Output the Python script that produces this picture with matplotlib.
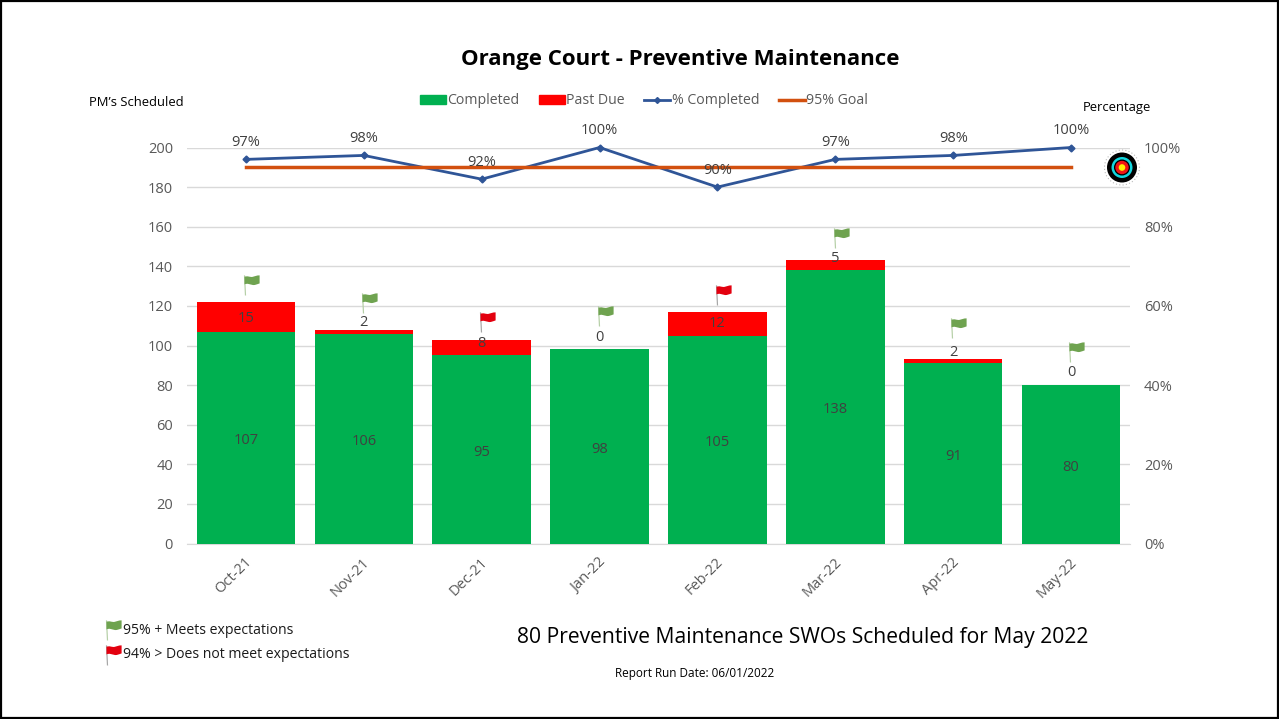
#!/usr/bin/env python3
"""Orange Court preventive maintenance chart."""

import matplotlib
matplotlib.use("Agg")
import matplotlib.pyplot as plt
from matplotlib.patches import Circle, Rectangle, Patch
from matplotlib.lines import Line2D
from matplotlib.path import Path
from matplotlib.ticker import FuncFormatter
from matplotlib.transforms import ScaledTranslation

plt.rcParams['font.family'] = ['Open Sans', 'DejaVu Sans']

months = ['Oct-21', 'Nov-21', 'Dec-21', 'Jan-22', 'Feb-22', 'Mar-22', 'Apr-22', 'May-22']
completed = [107, 106, 95, 98, 105, 138, 91, 80]
past_due = [15, 2, 8, 0, 12, 5, 2, 0]
pct_completed = [0.97, 0.98, 0.92, 1.00, 0.90, 0.97, 0.98, 1.00]
goal = [0.95] * 8
flag_colors = ['g', 'g', 'r', 'g', 'r', 'g', 'g', 'g']

# hand placed in the original: flag foot height and past due label nudge (px)
flag_base = [125.5, 116.4, 107, 110, 120.5, 149, 104, 91.7]
label_nudge = [-2, 9, 4, 12, 0, 7, 9, 13]

W, H = 1279, 719
GREEN = '#00B050'
RED = '#FF0000'
BLUE = '#2F5597'
ORANGE = '#D2500F'
GRAY = '#595959'
DARK = '#404040'

# flag shapes, foot of the pole at the origin, y up, in px
POLE = Path([(0.4, 0), (1.6, 0), (0.6, 20), (-0.6, 20), (0.4, 0)],
            [Path.MOVETO, Path.LINETO, Path.LINETO, Path.LINETO, Path.CLOSEPOLY])
CLOTH = Path(
    [(0, 18.5), (3, 20), (5, 18), (8, 18.5), (10, 19), (12, 20), (15, 20),
     (15, 12), (12, 11), (10, 10), (8, 10.5), (5, 11), (3, 12.5), (0, 11), (0, 18.5)],
    [Path.MOVETO, Path.CURVE4, Path.CURVE4, Path.CURVE4, Path.CURVE4, Path.CURVE4, Path.CURVE4,
     Path.LINETO, Path.CURVE4, Path.CURVE4, Path.CURVE4, Path.CURVE4, Path.CURVE4, Path.CURVE4,
     Path.CLOSEPOLY])
FLAG_MS = 29


def draw_flag(ax, x, y, kind):
    """Draw a small flag with its pole foot at x, y."""
    pole_col = '#B5CFA6' if kind == 'g' else '#A6A6A6'
    cloth_col = '#6FA350' if kind == 'g' else '#E3000F'
    ax.plot([x], [y], marker=POLE, ms=FLAG_MS, mfc=pole_col, mec='none',
            ls='none', clip_on=False, zorder=6)
    ax.plot([x], [y], marker=CLOTH, ms=FLAG_MS, mfc=cloth_col, mec='none',
            ls='none', clip_on=False, zorder=6)


fig = plt.figure(figsize=(W / 100, H / 100), dpi=100, facecolor='white')

ax = fig.add_axes([187 / W, 1 - 543.5 / H, (1130 - 187) / W, (543.5 - 147.5) / H])
xs = list(range(len(months)))

ax.bar(xs, completed, width=0.835, color=GREEN, zorder=3)
ax.bar(xs, past_due, width=0.835, bottom=completed, color=RED, zorder=3)
ax.set_xlim(-0.5, len(months) - 0.5)
ax.set_ylim(0, 200)
ax.set_yticks(range(0, 201, 20))
ax.set_xticks(xs)
ax.set_xticklabels(months, rotation=45, ha='right', rotation_mode='anchor')
ax.tick_params(axis='x', length=0, pad=8, labelsize=10.5, labelcolor=GRAY)
ax.tick_params(axis='y', length=0, pad=10, labelsize=10.5, labelcolor=GRAY)
shift = ScaledTranslation(-1 / 72, 0, fig.dpi_scale_trans)
for lab in ax.get_xticklabels():
    lab.set_transform(lab.get_transform() + shift)
ax.grid(axis='y', color='#D9D9D9', lw=1, zorder=0)
ax.set_axisbelow(True)
for name, spine in ax.spines.items():
    spine.set_visible(name == 'bottom')
ax.spines['bottom'].set_color('#D9D9D9')

for x, c in zip(xs, completed):
    ax.annotate(str(c), (x, c / 2), xytext=(0, -2), textcoords='offset points',
                ha='center', va='center', fontsize=10.5, color=DARK, zorder=5)
for x, c, p, n in zip(xs, completed, past_due, label_nudge):
    ax.annotate(str(p), (x, c + p / 2), xytext=(0, n * 0.72), textcoords='offset points',
                ha='center', va='center', fontsize=10.5, color=DARK, zorder=5)
for x, b, k in zip(xs, flag_base, flag_colors):
    draw_flag(ax, x - 0.015, b, k)

ax2 = ax.twinx()
ax2.set_ylim(0, 1)
ax2.set_yticks([0, 0.2, 0.4, 0.6, 0.8, 1.0])
ax2.yaxis.set_major_formatter(FuncFormatter(lambda v, _: f'{v:.0%}'))
ax2.tick_params(axis='y', length=0, pad=10, labelsize=10.5, labelcolor=GRAY)
for spine in ax2.spines.values():
    spine.set_visible(False)
ax2.plot(xs, pct_completed, color=BLUE, lw=2, marker='D', ms=3.5, clip_on=False, zorder=4)
ax2.plot(xs, goal, color=ORANGE, lw=2.5, clip_on=False, zorder=5)
for x, v in zip(xs, pct_completed):
    ax2.annotate(f'{v:.0%}', (x, v), xytext=(0, 12.2), textcoords='offset points',
                 ha='center', va='center', fontsize=10.5, color=DARK, zorder=7)

handles = [
    Patch(color=GREEN, label='Completed'),
    Patch(color=RED, label='Past Due'),
    Line2D([], [], color=BLUE, lw=2, marker='D', ms=3, label='% Completed'),
    Line2D([], [], color=ORANGE, lw=2.5, label='95% Goal'),
]
fig.legend(handles=handles, ncol=4, loc='center', bbox_to_anchor=(644 / W, 1 - 101 / H),
           frameon=False, fontsize=10.2, labelcolor=GRAY, handlelength=1.85, handleheight=0.6,
           handletextpad=0.1, columnspacing=1.35)

# overlay in image pixels for the loose text and decorations
ov = fig.add_axes([0, 0, 1, 1], facecolor='none', zorder=10)
ov.set_xlim(0, W)
ov.set_ylim(H, 0)
ov.axis('off')

ov.add_patch(Rectangle((1, 1), W - 2, H - 2, fill=False, ec='black', lw=1.6))

ov.text(680, 60, 'Orange Court - Preventive Maintenance', ha='center', va='center',
        fontsize=16, fontweight='bold', color='black')
ov.text(136.5, 102, 'PM\u2019s Scheduled', ha='center', va='center', fontsize=9.4, color='black')
ov.text(1117, 108, 'Percentage', ha='center', va='center', fontsize=9.4, color='black')
ov.text(803, 638, '80 Preventive Maintenance SWOs Scheduled for May 2022', ha='center', va='center',
        fontsize=15.2, color='black')
ov.text(695, 674, 'Report Run Date: 06/01/2022', ha='center', va='center', fontsize=8.5, color='black')
ov.text(123, 630, '95% + Meets expectations', ha='left', va='center', fontsize=10.05, color='#1A1A1A')
ov.text(123, 655, '94% > Does not meet expectations', ha='left', va='center', fontsize=10.05, color='#1A1A1A')

# the flags of the small key, this axes runs upwards like the chart does
key_ax = fig.add_axes([0, 0, 1, 1], facecolor='none', zorder=11)
key_ax.set_xlim(0, W)
key_ax.set_ylim(0, H)
key_ax.axis('off')
draw_flag(key_ax, 106, H - 640, 'g')
draw_flag(key_ax, 106, H - 665, 'r')

# target icon
for r, col in [(15, 'black'), (10.5, '#12D6DE'), (8, 'black'), (6.7, '#F01414'), (3.3, '#FFF200')]:
    ov.add_patch(Circle((1122, 167.5), r, fc=col, ec='none', zorder=8))
ov.add_patch(Circle((1122, 167.5), 17.5, fill=False, ec='#BBBBBB', lw=0.8, ls=(0, (1, 2)), zorder=8))

fig.savefig('out.png', dpi=100, facecolor='white')
